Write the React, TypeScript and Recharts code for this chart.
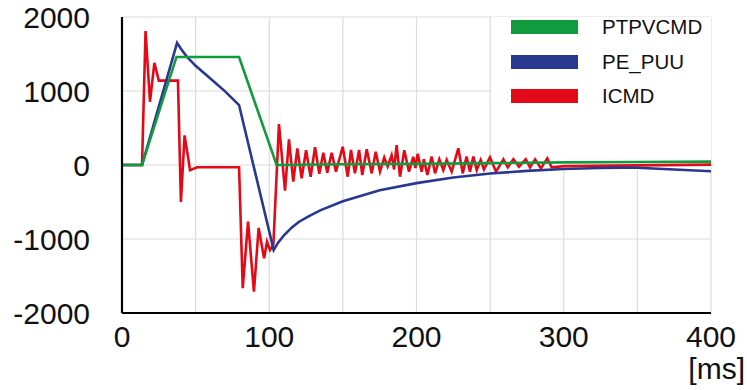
import React from 'react';
import {
  LineChart,
  Line,
  XAxis,
  YAxis,
  CartesianGrid,
  ReferenceArea,
} from 'recharts';

// [tempo em ms, valor]
const PTPVCMD: [number, number][] = [
  [0, 0], [13.6, 0], [37, 1460], [79.5, 1460], [105, 0], [150, 10],
  [200, 15], [250, 25], [300, 35], [350, 40], [400, 45],
];

const PE_PUU: [number, number][] = [
  [0, 0], [13.6, 0], [37.4, 1650], [40, 1570], [44, 1465], [50, 1340],
  [60, 1170], [70, 995], [79.5, 810], [103, -1150], [106, -1050],
  [110, -950], [115, -850], [120, -770], [127, -690], [135, -610],
  [150, -490], [175, -340], [200, -245], [225, -170], [250, -115],
  [275, -80], [300, -55], [325, -40], [340, -35], [350, -38],
  [375, -60], [400, -85],
];

const ICMD: [number, number][] = [
  [0, 0], [13.6, 0], [16, 1810], [19, 855], [22, 1380], [25, 1140],
  [38, 1140], [40, -500], [42.5, 400], [44.6, 140], [46.2, -70],
  [51, -30], [79.5, -30], [82, -1665], [85.6, -765], [89.6, -1710],
  [92.8, -850], [96.5, -1260], [98.5, -1035], [100.5, -1150],
  [102.8, -1080], [106.6, 554], [110.7, -347], [113.4, 347],
  [116.3, -225], [119.1, 225], [122, -180], [125, 200], [128.1, -158],
  [131.1, 240], [134, -120], [136.7, 166], [139.4, -104], [142.4, 166],
  [145.3, -90], [149.9, 247], [153.3, -158], [155.5, 203], [158.2, -113],
  [161, 203], [163.2, -135], [166.2, 212], [169.6, -113], [172.3, 180],
  [175.2, -90], [178.1, 100], [180.4, -20], [183.1, 130], [184.8, -60],
  [186.5, 270], [188.8, -158], [191.7, 200], [194.9, -90], [197.8, 110],
  [199.3, -40], [200.8, 150], [203.5, -90], [205, 77], [207.4, -135],
  [210.3, 113], [212.6, -113], [215.5, 77], [218.2, -68], [220.5, 68],
  [223.9, -90], [228.4, 225], [231.4, -113], [234, 113], [236.3, -90],
  [238.6, 113], [240.9, -68], [243.6, 68], [245.8, -59], [249.9, 104],
  [254, -90], [259, 77], [262, -32], [265.8, 77], [269.6, -23],
  [274.2, 77], [277.1, -32], [280.5, 77], [284.5, -45], [288.8, 90],
  [291.8, -32], [300, -15], [400, 5],
];

const xTicks = [0, 100, 200, 300, 400];
const yTicks = [-2000, -1000, 0, 1000, 2000];
const xGrid = [50, 100, 150, 200, 250, 300, 350, 400];
const yGrid = [-1000, 0, 1000, 2000];

const FONT = '"Liberation Sans", Arial, Helvetica, sans-serif';

const series = [
  { name: 'PTPVCMD', color: '#129a3e' },
  { name: 'PE_PUU', color: '#283891' },
  { name: 'ICMD', color: '#e30a17' },
];

const toPoints = (arr: [number, number][]) => arr.map(([t, v]) => ({ t, v }));

// legenda com retângulos grandes à direita (fora do gráfico para não mexer no layout)
const CustomLegend = () => (
  <div style={{ position: 'absolute', left: 511, top: 10, fontFamily: FONT }}>
    {series.map((s) => (
      <div key={s.name} style={{ display: 'flex', alignItems: 'center', height: 34.5 }}>
        <div style={{ width: 67, height: 14, background: s.color }} />
        <span style={{ marginLeft: 24, fontSize: 20.5, color: '#111' }}>{s.name}</span>
      </div>
    ))}
  </div>
);

const App: React.FC = () => {
  return (
    <div style={{ position: 'absolute', left: 0, top: 0, width: 747, height: 390, background: '#fff' }}>
      <LineChart
        width={747}
        height={390}
        margin={{ top: 17, right: 36, left: 0, bottom: 0 }}
        style={{ fontFamily: FONT }}
      >
        <CartesianGrid
          stroke="#dcdcdc"
          strokeWidth={1.2}
          verticalValues={xGrid}
          horizontalValues={yGrid}
        />
        {/* fundo branco atrás da legenda */}
        <ReferenceArea x1={251} x2={400} y1={-68} y2={2000} fill="#fff" fillOpacity={1} stroke="none" />
        <XAxis
          dataKey="t"
          type="number"
          domain={[0, 400]}
          ticks={xTicks}
          allowDuplicatedCategory={false}
          height={77}
          tickLine={false}
          tickSize={0}
          tickMargin={13}
          axisLine={{ stroke: '#000', strokeWidth: 2.2 }}
          tick={{ fill: '#111', fontSize: 30 }}
          label={{
            content: ({ viewBox }: any) => (
              <text
                x={viewBox.x + viewBox.width + 34}
                y={viewBox.y + 66}
                textAnchor="end"
                fontSize={30}
                fill="#111"
              >
                [ms]
              </text>
            ),
          }}
        />
        <YAxis
          type="number"
          domain={[-2000, 2000]}
          ticks={yTicks}
          width={122}
          tickLine={false}
          tickSize={0}
          tickMargin={32}
          axisLine={{ stroke: '#000', strokeWidth: 2.2 }}
          tick={{ fill: '#111', fontSize: 30 }}
        />
        <Line data={toPoints(ICMD)} dataKey="v" name="ICMD" stroke="#e30a17" strokeWidth={2.6} dot={false} type="linear" isAnimationActive={false} />
        <Line data={toPoints(PE_PUU)} dataKey="v" name="PE_PUU" stroke="#283891" strokeWidth={2.6} dot={false} type="linear" isAnimationActive={false} />
        <Line data={toPoints(PTPVCMD)} dataKey="v" name="PTPVCMD" stroke="#129a3e" strokeWidth={2.6} dot={false} type="linear" isAnimationActive={false} />
      </LineChart>
      <CustomLegend />
    </div>
  );
};

export default App;
